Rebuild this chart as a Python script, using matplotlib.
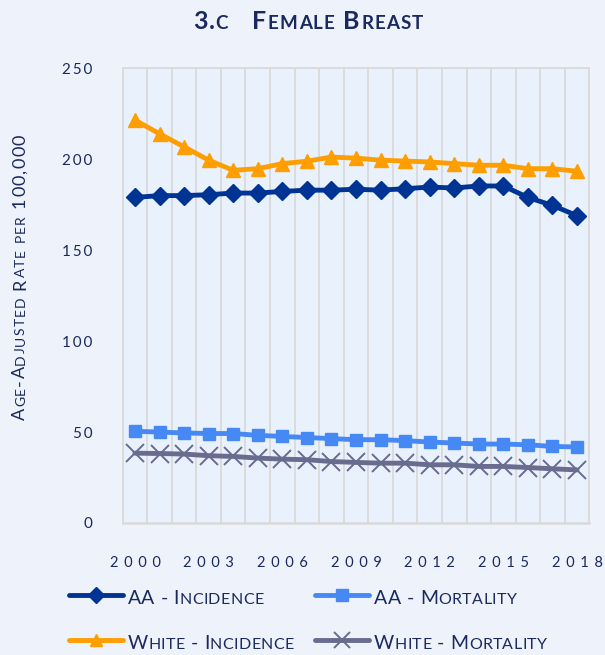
import matplotlib
matplotlib.use("Agg")
import matplotlib.pyplot as plt
from matplotlib.lines import Line2D
from matplotlib.transforms import offset_copy

plt.rcParams['font.family'] = ['Lato', 'DejaVu Sans']

years = list(range(2000, 2019))
aa_incidence = [179, 180, 180, 180.5, 181.4, 181.4, 182.3, 183, 183, 183.5, 183, 183.8,
                184.7, 184.2, 185.3, 185.3, 179, 174.6, 169]
white_incidence = [221.5, 214, 206.8, 199.5, 193.9, 194.8, 197.6, 198.9, 201.2, 200.6, 199.5,
                   199, 198.5, 197.6, 196.7, 196.7, 194.8, 194.8, 193.4]
aa_mortality = [50.4, 50, 49.5, 49.2, 49.2, 48.2, 47.6, 47, 46.4, 45.8, 45.8, 45.3, 44.5, 44,
                43.4, 43.4, 43, 42.1, 41.8]
white_mortality = [38.4, 38.2, 37.9, 37, 36.6, 35.7, 35.1, 34.8, 33.8, 33.3, 32.9, 32.9, 32, 32,
                   31.1, 31.1, 30.5, 29.8, 29.2]
series_names = ["AA - Incidence", "AA - Mortality", "White - Incidence", "White - Mortality"]
yticks = [0, 50, 100, 150, 200, 250]
xtick_years = [2000, 2003, 2006, 2009, 2012, 2015, 2018]
title = "3.c   Female Breast"
ylabel = "Age-Adjusted Rate per 100,000"

NAVY = "#1B2A5E"
C_AAI = "#003494"
C_AAM = "#4689F5"
C_WI = "#FF9E00"
C_WM = "#686C8E"
GRID = "#D9D9D9"

W, H = 605, 655
fig = plt.figure(figsize=(W / 100, H / 100), dpi=100, facecolor="#EEF2FA")
ax = fig.add_axes([122.7 / W, 1 - 523 / H, (589.3 - 122.7) / W, (523 - 68.3) / H])
ax.set_facecolor("#E9F1FD")

x = list(range(len(years)))
styles = [
    (aa_incidence, C_AAI, 'D', 9, 1),
    (aa_mortality, C_AAM, 's', 8, 1),
    (white_incidence, C_WI, '^', 10, 1),
    (white_mortality, C_WM, 'x', 13, 1.4),
]
for vals, c, m, ms, mew in styles:
    ax.plot(x, vals, color=c, lw=3.5, marker=m, ms=ms, mew=mew, mec=c, mfc=c,
            solid_capstyle='round', zorder=3)

ax.set_xlim(-0.5, len(years) - 0.5)
ax.set_ylim(0, 250)
for b in range(len(years) + 1):
    ax.axvline(b - 0.5, color=GRID, lw=1.3, zorder=1)
for s in ax.spines.values():
    s.set_color(GRID)
    s.set_linewidth(1.3)
ax.spines['bottom'].set_linewidth(1.8)

ax.set_yticks(yticks)
ax.set_yticklabels(["\u2009".join(str(v)) for v in yticks], fontsize=11, color=NAVY)
ax.tick_params(axis='y', length=0, pad=22)
ax.set_xticks([years.index(y) for y in xtick_years])
ax.set_xticklabels([" \u2009".join(str(y)) for y in xtick_years], fontsize=10.5, color=NAVY)
ax.tick_params(axis='x', length=0, pad=24)

fig.canvas.draw()
renderer = fig.canvas.get_renderer()


def draw_sc(xf, yf, text, big, small, rotation=0, ha='center', weight='normal',
            color=NAVY, track=0.0):
    arts = []
    widths = []
    for ch in text:
        is_small = ch.islower()
        size = small if is_small else big
        c = ch.upper()
        if c == " ":
            arts.append(None)
            widths.append(0.26 * size * 100 / 72 + track)
            continue
        t = fig.text(xf, yf, c, fontsize=size, rotation=rotation,
                     rotation_mode='anchor', ha='left', va='baseline',
                     fontweight=weight, color=color)
        bb = t.get_window_extent(renderer)
        widths.append((bb.width if rotation == 0 else bb.height) + track)
        arts.append(t)
    total = sum(widths) - track
    off = -total / 2 if ha == 'center' else 0
    for t, w in zip(arts, widths):
        if t is not None:
            if rotation == 0:
                t.set_transform(offset_copy(fig.transFigure, fig=fig, x=off, y=0, units='dots'))
            else:
                t.set_transform(offset_copy(fig.transFigure, fig=fig, x=0, y=off, units='dots'))
        off += w


# title
draw_sc(308 / W, 1 - 29.3 / H, title, 18, 13.5, weight='bold', track=1.2)
# y label
draw_sc(25 / W, 1 - 277 / H, ylabel, 13, 10, rotation=90, track=1.2)

# legend
leg = [
    (series_names[0], C_AAI, 'D', 8, 1, 68.5, 595),
    (series_names[1], C_AAM, 's', 8, 1, 315, 595),
    (series_names[2], C_WI, '^', 9, 1, 68.5, 640),
    (series_names[3], C_WM, 'x', 11, 1.4, 315, 640),
]
for name, c, m, ms, mew, x0, yy in leg:
    yl = 1 - yy / H
    fig.add_artist(Line2D([x0 / W, (x0 + 54) / W], [yl, yl], color=c, lw=3.5,
                          solid_capstyle='round', transform=fig.transFigure))
    fig.add_artist(Line2D([(x0 + 27) / W], [yl], color=c, marker=m, ms=ms, mew=mew,
                          mfc=c, mec=c, transform=fig.transFigure))
    draw_sc((x0 + 59) / W, 1 - (yy + 9) / H, name, 14, 11.5, ha='left', track=0.4)

fig.savefig("out.png", dpi=100, facecolor=fig.get_facecolor())
